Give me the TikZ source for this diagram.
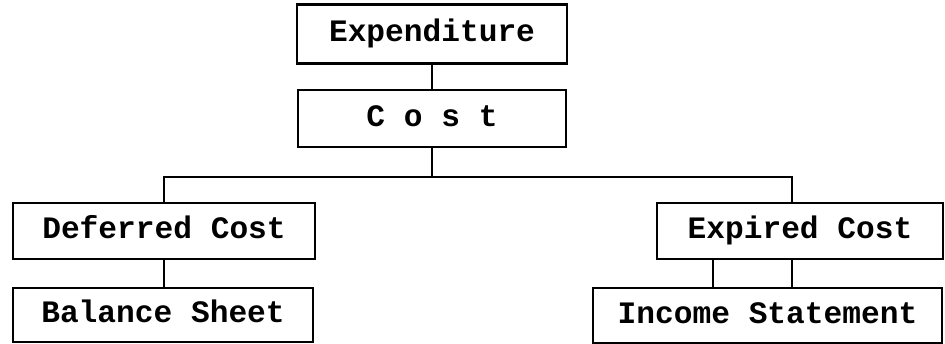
\documentclass[tikz,border=0pt]{standalone}
\usepackage{fontspec}
\newfontfamily\boxfont{Liberation Mono}
\begin{document}
\begin{tikzpicture}[x=0.5pt,y=-0.5pt,
  box/.style={draw,line width=1.3pt,rectangle,inner sep=0pt,
    text height=10pt,text depth=2.5pt,
    font=\boxfont\bfseries\fontsize{15.6}{18}\selectfont},
  conn/.style={line width=1.3pt}]
\useasboundingbox (0,0) rectangle (945,343);
\node[box,minimum width=135pt,minimum height=29.5pt] (exp) at (432,34) {Expenditure};
\node[box,minimum width=134pt,minimum height=28.5pt] (cost) at (432,118.5) {C o s t};
\node[box,minimum width=151pt,minimum height=28pt] (def) at (164,231) {Deferred Cost};
\node[box,minimum width=150pt,minimum height=27pt] (bal) at (163,315) {Balance Sheet};
\node[box,minimum width=143pt,minimum height=28pt] (expd) at (800,231) {Expired Cost};
\node[box,minimum width=174.5pt,minimum height=27.5pt] (inc) at (767.5,315.5) {Income Statement};
\coordinate (jR) at (792,177);
\coordinate (v1) at (713,0);
\coordinate (v2) at (792,0);
\draw[conn] (exp.south) -- (cost.north);
\draw[conn] (cost.south) -- (cost.south |- jR);
\draw[conn] (def.north) |- (jR) -- (jR |- expd.north);
\draw[conn] (def.south) -- (def.south |- bal.north);
\draw[conn] (v1 |- expd.south) -- (v1 |- inc.north);
\draw[conn] (v2 |- expd.south) -- (v2 |- inc.north);
\end{tikzpicture}
\end{document}
